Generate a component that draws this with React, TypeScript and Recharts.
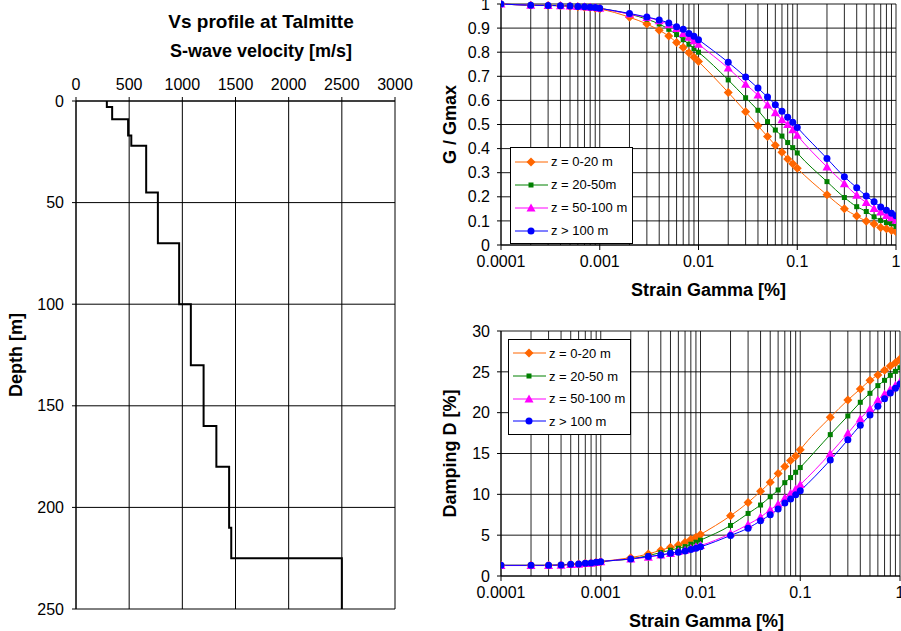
import React from "react";
import {
  ScatterChart,
  Scatter,
  LineChart,
  Line,
  XAxis,
  YAxis,
  CartesianGrid,
  ReferenceLine,
  Legend,
  Label,
} from "recharts";

const FONT = '"Liberation Sans", Arial, Helvetica, sans-serif';

// Vs profile: top of each layer [m] and its S-wave velocity [m/s]
const layerTop = [0, 3, 9, 17, 22, 45, 70, 100, 130, 160, 180, 210, 225];
const layerVs = [290, 340, 490, 520, 660, 770, 970, 1080, 1200, 1320, 1440, 1460, 2500];
const maxDepth = 250;

const vsTicks = [0, 500, 1000, 1500, 2000, 2500, 3000];
const depthTicks = [0, 50, 100, 150, 200, 250];

// strain [%]
const strain = [
  0.0001, 0.0002, 0.0003, 0.0004, 0.0005, 0.0006, 0.0007, 0.0008, 0.0009,
  0.001, 0.002, 0.003, 0.004, 0.005, 0.006, 0.007, 0.008, 0.009,
  0.01, 0.02, 0.03, 0.04, 0.05, 0.06, 0.07, 0.08, 0.09,
  0.1, 0.2, 0.3, 0.4, 0.5, 0.6, 0.7, 0.8, 0.9, 1,
];
const strainTicks = [0.0001, 0.001, 0.01, 0.1, 1];
const ggTicks = [0, 0.1, 0.2, 0.3, 0.4, 0.5, 0.6, 0.7, 0.8, 0.9, 1];
const dampTicks = [0, 5, 10, 15, 20, 25, 30];

// G / Gmax
const gg0_20 = [
  1.0, 0.995, 0.994, 0.993, 0.991, 0.989, 0.987, 0.985, 0.982,
  0.979, 0.945, 0.917, 0.891, 0.867, 0.84, 0.819, 0.798, 0.779,
  0.761, 0.633, 0.553, 0.495, 0.45, 0.414, 0.385, 0.357, 0.337,
  0.318, 0.208, 0.15, 0.12, 0.099, 0.087, 0.073, 0.067, 0.06, 0.055,
];
const gg20_50 = [
  1.0, 0.995, 0.994, 0.993, 0.992, 0.99, 0.989, 0.987, 0.985,
  0.982, 0.958, 0.937, 0.917, 0.895, 0.873, 0.852, 0.833, 0.815,
  0.8, 0.685, 0.611, 0.559, 0.512, 0.477, 0.452, 0.425, 0.404,
  0.382, 0.263, 0.197, 0.159, 0.139, 0.117, 0.102, 0.093, 0.088, 0.077,
];
const gg50_100 = [
  1.0, 0.995, 0.994, 0.993, 0.992, 0.99, 0.989, 0.987, 0.985,
  0.982, 0.958, 0.944, 0.931, 0.914, 0.898, 0.878, 0.862, 0.848,
  0.833, 0.734, 0.667, 0.622, 0.581, 0.549, 0.52, 0.5, 0.478,
  0.455, 0.324, 0.254, 0.206, 0.176, 0.151, 0.137, 0.122, 0.113, 0.103,
];
const gg100 = [
  1.0, 0.995, 0.994, 0.993, 0.992, 0.99, 0.989, 0.987, 0.985,
  0.982, 0.961, 0.946, 0.934, 0.921, 0.906, 0.895, 0.878, 0.866,
  0.852, 0.758, 0.697, 0.651, 0.614, 0.582, 0.555, 0.53, 0.509,
  0.488, 0.359, 0.283, 0.238, 0.203, 0.179, 0.158, 0.144, 0.132, 0.121,
];

// damping D [%]
const d0_20 = [
  1.31, 1.31, 1.31, 1.35, 1.43, 1.48, 1.56, 1.6, 1.68,
  1.76, 2.25, 2.7, 3.16, 3.52, 3.81, 4.14, 4.47, 4.75,
  5.08, 7.38, 9.0, 10.37, 11.48, 12.54, 13.4, 14.14, 14.7,
  15.45, 19.43, 21.55, 22.9, 23.96, 24.61, 25.18, 25.71, 26.12, 26.57,
];
const d20_50 = [
  1.31, 1.31, 1.31, 1.35, 1.43, 1.48, 1.56, 1.6, 1.68,
  1.76, 2.09, 2.5, 2.87, 3.16, 3.4, 3.6, 3.89, 4.14,
  4.39, 6.19, 7.66, 8.69, 9.71, 10.53, 11.43, 12.05, 12.7,
  13.28, 17.31, 19.6, 21.27, 22.37, 23.31, 23.96, 24.57, 25.06, 25.5,
];
const d50_100 = [
  1.28, 1.28, 1.28, 1.32, 1.4, 1.45, 1.53, 1.57, 1.65,
  1.74, 2.09, 2.3, 2.58, 2.75, 2.99, 3.16, 3.36, 3.57,
  3.73, 5.2, 6.31, 7.21, 8.11, 8.81, 9.55, 10.12, 10.66,
  11.19, 15.0, 17.47, 19.27, 20.49, 21.55, 22.29, 22.86, 23.35, 23.8,
];
const d100 = [
  1.31, 1.31, 1.31, 1.35, 1.43, 1.48, 1.56, 1.6, 1.68,
  1.76, 2.09, 2.38, 2.58, 2.79, 2.91, 3.07, 3.24, 3.4,
  3.57, 4.96, 5.86, 6.76, 7.5, 8.2, 8.93, 9.43, 9.96,
  10.45, 14.2, 16.67, 18.47, 19.71, 20.8, 21.7, 22.4, 23.0, 23.5,
];

const topLabels = ["z = 0-20 m", "z = 20-50m", "z = 50-100 m", "z > 100 m"];
const bottomLabels = ["z = 0-20 m", "z = 20-50 m", "z = 50-100 m", "z > 100 m"];

const SERIES = [
  { key: "s1", color: "#FF6600", marker: "diamond" },
  { key: "s2", color: "#008000", marker: "square" },
  { key: "s3", color: "#FF00FF", marker: "triangle" },
  { key: "s4", color: "#0000FF", marker: "circle" },
];

// staircase points for the velocity profile
const profile: { v: number; d: number }[] = [];
layerVs.forEach((v, i) => {
  const bottom = i + 1 < layerTop.length ? layerTop[i + 1] : maxDepth;
  profile.push({ v, d: layerTop[i] }, { v, d: bottom });
});

const ggRows = strain.map((x, i) => ({
  x,
  s1: gg0_20[i],
  s2: gg20_50[i],
  s3: gg50_100[i],
  s4: gg100[i],
}));
const dampRows = strain.map((x, i) => ({
  x,
  s1: d0_20[i],
  s2: d20_50[i],
  s3: d50_100[i],
  s4: d100[i],
}));

const tickStyle = { fill: "#000", fontSize: 16, fontFamily: FONT };

function Marker({ kind, x, y, color }: any) {
  if (kind === "diamond")
    return (
      <polygon
        points={`${x},${y - 4.5} ${x + 4.5},${y} ${x},${y + 4.5} ${x - 4.5},${y}`}
        fill={color}
      />
    );
  if (kind === "square")
    return <rect x={x - 2.5} y={y - 2.5} width={5} height={5} fill={color} />;
  if (kind === "triangle")
    return (
      <polygon
        points={`${x},${y - 4.5} ${x + 4.5},${y + 3.5} ${x - 4.5},${y + 3.5}`}
        fill={color}
      />
    );
  return <circle cx={x} cy={y} r={3.5} fill={color} />;
}

function SideTitle({ viewBox, value, shift = 0 }: any) {
  const cx = viewBox.x + shift;
  const cy = viewBox.y + viewBox.height / 2;
  return (
    <text
      x={cx}
      y={cy}
      transform={`rotate(-90, ${cx}, ${cy})`}
      textAnchor="middle"
      dominantBaseline="central"
      fontFamily={FONT}
      fontWeight="bold"
      fontSize={18}
      fill="#000"
    >
      {value}
    </text>
  );
}

function BottomTitle({ viewBox, value, shiftX = 0, shiftY = 0 }: any) {
  const cx = viewBox.x + viewBox.width / 2 + shiftX;
  const cy = viewBox.y + shiftY;
  return (
    <text
      x={cx}
      y={cy}
      textAnchor="middle"
      dominantBaseline="central"
      fontFamily={FONT}
      fontWeight="bold"
      fontSize={18}
      fill="#000"
    >
      {value}
    </text>
  );
}

function LegendBox({ labels, rowH }: { labels: string[]; rowH: number }) {
  return (
    <div
      style={{
        border: "1.5px solid #000",
        background: "#fff",
        padding: "2px 5px 1px 3px",
        fontFamily: FONT,
        fontSize: 13,
        color: "#000",
      }}
    >
      {SERIES.map((s, i) => (
        <div
          key={s.key}
          style={{ display: "flex", alignItems: "center", height: rowH, whiteSpace: "nowrap" }}
        >
          <svg width={35} height={12} style={{ marginRight: 2 }}>
            <line x1={1} y1={6} x2={34} y2={6} stroke={s.color} strokeWidth={1} />
            <Marker kind={s.marker} x={17} y={6} color={s.color} />
          </svg>
          <span>{labels[i]}</span>
        </div>
      ))}
    </div>
  );
}

function StrainChart({
  rows,
  height,
  margin,
  yTicks,
  yDomain,
  yTitle,
  yFormat,
  labels,
  legendPos,
  rowH,
  titleShift,
}: any) {
  return (
    <LineChart width={461} height={height} data={rows} margin={margin}>
      <CartesianGrid vertical={false} stroke="#000" strokeOpacity={0.9} />
      {strain.map((v) => (
        <ReferenceLine key={v} x={v} stroke="#000" strokeOpacity={0.85} ifOverflow="visible" />
      ))}
      <XAxis
        dataKey="x"
        type="number"
        scale="log"
        domain={[0.0001, 1]}
        allowDataOverflow
        ticks={strainTicks}
        interval={0}
        tickFormatter={(v: number) => String(v)}
        tick={tickStyle}
        tickSize={5}
        tickMargin={6}
        axisLine={{ stroke: "#000" }}
        tickLine={{ stroke: "#000" }}
        height={55}
      >
        <Label
          value="Strain Gamma [%]"
          content={<BottomTitle shiftX={titleShift} shiftY={45} />}
        />
      </XAxis>
      <YAxis
        type="number"
        domain={yDomain}
        ticks={yTicks}
        interval={0}
        tickFormatter={yFormat}
        tick={tickStyle}
        tickSize={4}
        tickMargin={7}
        axisLine={{ stroke: "#000" }}
        tickLine={{ stroke: "#000" }}
        width={61}
      >
        <Label value={yTitle} content={<SideTitle shift={9.5} />} />
      </YAxis>
      <Legend
        layout="vertical"
        align="center"
        verticalAlign="middle"
        wrapperStyle={{ left: legendPos.left, top: legendPos.top, width: "auto", right: "auto", bottom: "auto" }}
        content={() => <LegendBox labels={labels} rowH={rowH} />}
      />
      {SERIES.map((s) => (
        <Line
          key={s.key}
          dataKey={s.key}
          type="monotone"
          stroke={s.color}
          strokeWidth={1}
          isAnimationActive={false}
          dot={(p: any) => (
            <Marker key={`${s.key}-${p.index}`} kind={s.marker} x={p.cx} y={p.cy} color={s.color} />
          )}
          activeDot={false}
        />
      ))}
    </LineChart>
  );
}

const titleStyle: React.CSSProperties = {
  position: "absolute",
  left: 261,
  transform: "translateX(-50%)",
  fontFamily: FONT,
  fontWeight: "bold",
  lineHeight: "1",
  whiteSpace: "nowrap",
  color: "#000",
};

export default function App() {
  return (
    <div
      style={{
        position: "absolute",
        left: 0,
        top: 0,
        width: 901,
        height: 631,
        background: "#fff",
        overflow: "hidden",
      }}
    >
      <div style={{ ...titleStyle, top: 12, fontSize: 19 }}>Vs profile at Talmitte</div>
      <div style={{ ...titleStyle, top: 42, fontSize: 18 }}>S-wave velocity [m/s]</div>

      <div style={{ position: "absolute", left: 0, top: 0 }}>
        <ScatterChart
          width={420}
          height={631}
          margin={{ top: 56, right: 25, bottom: 22, left: 16 }}
        >
          <CartesianGrid stroke="#000" />
          <XAxis
            dataKey="v"
            type="number"
            orientation="top"
            domain={[0, 3000]}
            ticks={vsTicks}
            interval={0}
            tick={tickStyle}
            tickSize={4}
            tickMargin={7}
            axisLine={{ stroke: "#000" }}
            tickLine={{ stroke: "#000" }}
            height={45}
          />
          <YAxis
            dataKey="d"
            type="number"
            reversed
            domain={[0, maxDepth]}
            ticks={depthTicks}
            interval={0}
            tick={tickStyle}
            tickSize={4}
            tickMargin={8}
            axisLine={{ stroke: "#000" }}
            tickLine={{ stroke: "#000" }}
            width={60}
          >
            <Label value="Depth [m]" content={<SideTitle shift={0} />} />
          </YAxis>
          <Scatter
            data={profile}
            line={{ stroke: "#000", strokeWidth: 2 }}
            lineType="joint"
            shape={() => <g />}
            isAnimationActive={false}
          />
        </ScatterChart>
      </div>

      <div style={{ position: "absolute", left: 440, top: 0 }}>
        <StrainChart
          rows={ggRows}
          height={300}
          margin={{ top: 4, right: 5, bottom: 0, left: 0 }}
          yTicks={ggTicks}
          yDomain={[0, 1]}
          yTitle="G / Gmax"
          yFormat={(v: number) => (v === 0 || v === 1 ? String(v) : v.toFixed(1))}
          labels={topLabels}
          legendPos={{ left: 70, top: 147 }}
          rowH={23}
          titleShift={10}
        />
      </div>

      <div style={{ position: "absolute", left: 440, top: 310 }}>
        <StrainChart
          rows={dampRows}
          height={321}
          margin={{ top: 21, right: 1, bottom: 0, left: 0 }}
          yTicks={dampTicks}
          yDomain={[0, 30]}
          yTitle="Damping D [%]"
          yFormat={(v: number) => String(v)}
          labels={bottomLabels}
          legendPos={{ left: 68, top: 29 }}
          rowH={22.7}
          titleShift={6}
        />
      </div>
    </div>
  );
}
